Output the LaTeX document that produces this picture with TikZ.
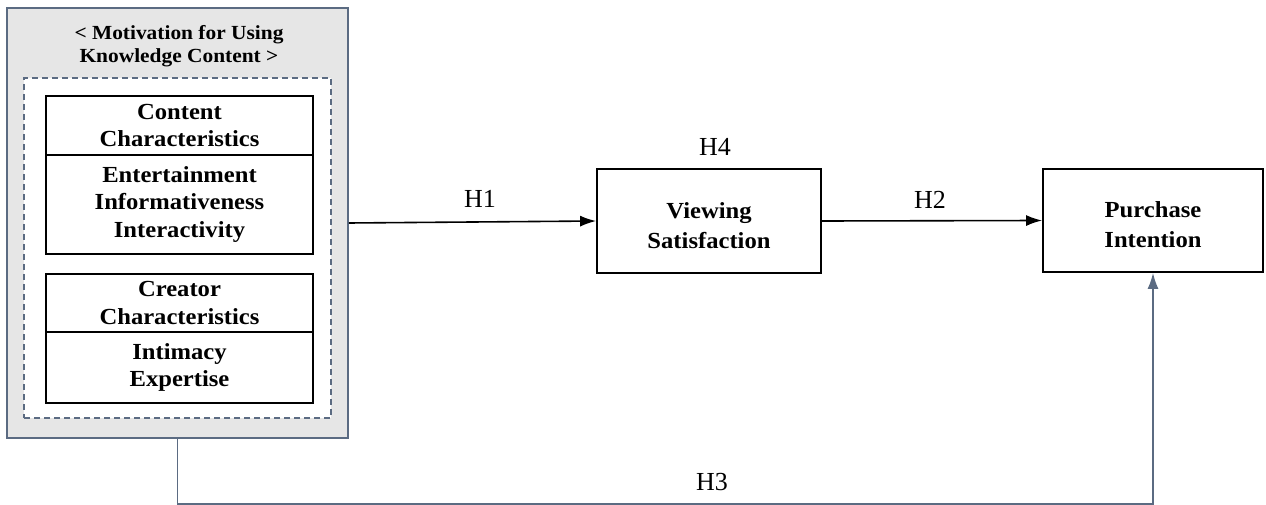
\documentclass[tikz,border=0pt]{standalone}
\usepackage{fontspec}
\setmainfont{Liberation Serif}
\newfontfamily\bfont{Liberation Serif}[FakeStretch=1.07]
\usetikzlibrary{arrows.meta}
\definecolor{slate}{HTML}{5B6B82}
\definecolor{panel}{HTML}{E6E6E6}
\tikzset{
  box/.style={draw=black, line width=1.8pt, fill=white, align=center, inner sep=0pt,
    font=\bfont\bfseries\fontsize{23}{27.5}\selectfont},
  bigbox/.style={box, font=\bfont\bfseries\fontsize{23}{30}\selectfont},
  hlabel/.style={font=\fontsize{26}{30}\selectfont, inner sep=0pt},
  conn/.style={line width=1.6pt, -{Latex[length=16pt,width=11pt]}},
}
\begin{document}
\begin{tikzpicture}[x=1pt,y=-1pt]
\useasboundingbox (0,0) rectangle (1266,505);
% outer panel
\node[draw=slate, line width=1.6pt, fill=panel, minimum width=341pt, minimum height=430pt, inner sep=0pt] (outer) at (177.5,223) {};
\node[font=\bfont\bfseries\fontsize{20}{23}\selectfont, align=center, inner sep=0pt] (title) at (179,46) {< Motivation for Using\\Knowledge Content >};
\node[draw=slate, dashed, line width=1.1pt, fill=white, minimum width=307pt, minimum height=340pt, inner sep=0pt, dash pattern=on 6pt off 4pt] (dash) at (177.5,248) {};
% content characteristics
\node[box, minimum width=267pt, minimum height=59pt] (cch) at (179.5,125.5) {Content\\Characteristics};
\node[box, minimum width=267pt, minimum height=99pt] (ccb) at (179.5,204.5) {Entertainment\\Informativeness\\Interactivity};
% creator characteristics
\node[box, minimum width=267pt, minimum height=58pt] (crh) at (179.5,303) {Creator\\Characteristics};
\node[box, minimum width=267pt, minimum height=71pt] (crb) at (179.5,367.5) {Intimacy\\Expertise};
% right boxes
\node[bigbox, minimum width=224pt, minimum height=104pt] (vs) at (709,221) {\mbox{}\\[-5pt]Viewing\\Satisfaction};
\node[bigbox, minimum width=220pt, minimum height=103pt] (pi) at (1153,220.5) {\mbox{}\\[-5pt]Purchase\\Intention};
% connectors
\draw[conn] (outer.east) -- (vs.west);
\draw[conn] (vs.east) -- (pi.west);
\draw[conn, draw=slate, -{Latex[length=16pt,width=11pt,fill=slate]}] (outer.south) -- ++(0,65) -| (pi.south);
% labels
\node[hlabel] (h1) at (480,199) {H1};
\node[hlabel] (h2) at (930,200) {H2};
\node[hlabel] (h4) at (715,147) {H4};
\node[hlabel] (h3) at (712,482) {H3};
\end{tikzpicture}
\end{document}
